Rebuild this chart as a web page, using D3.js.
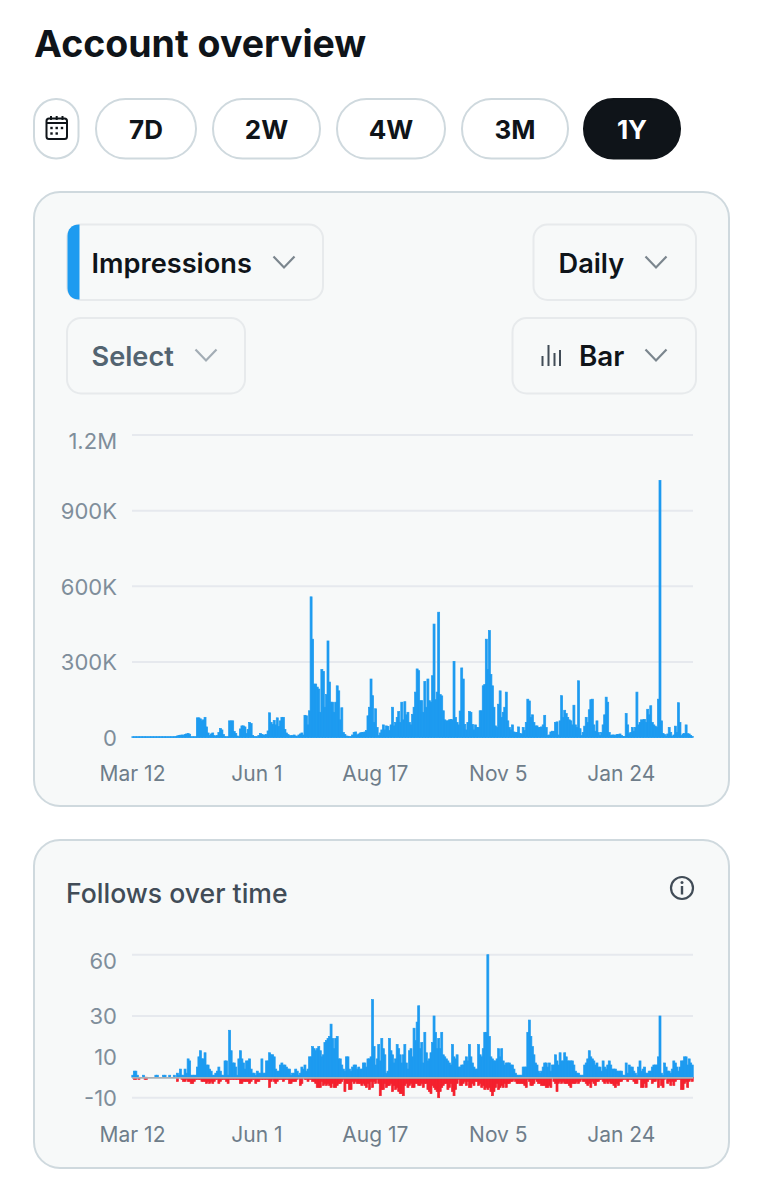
<!DOCTYPE html>
<html>
<head>
<meta charset="utf-8">
<title>Account overview</title>
<script src="https://cdn.jsdelivr.net/npm/d3@7"></script>
<style>
  html, body { margin: 0; padding: 0; background: #fff; }
  svg { display: block; font-family: Inter, "Noto Sans", sans-serif; }
</style>
</head>
<body>
<svg id="page" width="762" height="1200"></svg>
<script>
const rangeButtons = ['7D', '2W', '4W', '3M', '1Y'];
const startDate = new Date(Date.UTC(2024, 2, 12));
const xTickDates = [[2024, 2, 12], [2024, 5, 1], [2024, 7, 17], [2024, 10, 5], [2025, 0, 24]];

// daily impressions, in thousands
const impressions = [
  3,3,3,3,3,3,3,3,3,3, 3,3,3,3,3,3,3,3,3,3, 3,3,3,3,3,3,3,3,4,6,
  8,9,10,9,12,14,16,13,3,3, 3,3,78,78,74,66,70,80,42,18,
  8,14,18,8,4,8,20,36,30,12, 3,3,3,66,66,66,24,16,6,3,
  34,46,46,42,16,32,60,55,8,4, 3,3,8,16,12,10,10,12,26,98,
  60,52,68,50,78,44,66,80,80,32, 18,12,8,6,8,10,6,4,10,14,
  18,10,88,86,50,106,558,390,212,212, 200,192,100,270,262,120,170,383,220,140,
  140,100,140,205,185,70,118,20,12,6, 5,4,3,10,20,22,10,14,18,20,
  20,22,28,86,120,232,166,60,114,40, 8,18,30,50,30,46,44,28,50,120,
  46,60,80,103,60,140,70,142,90,100, 60,50,92,120,180,272,265,146,146,100,
  222,120,232,146,140,245,450,150,180,497, 170,165,106,70,66,66,70,72,70,302,
  80,60,50,105,276,232,52,30,60,103, 100,52,30,50,40,40,106,106,205,210,
  390,270,424,250,205,120,46,40,132,185, 80,100,120,180,66,40,30,50,22,20,
  20,42,16,14,40,28,60,152,145,80, 90,60,46,46,40,40,42,50,88,40,
  8,10,22,25,24,60,62,10,66,166, 80,108,95,80,70,66,50,128,50,40,
  225,35,8,20,45,80,60,110,150,152, 50,25,66,20,8,20,50,90,160,140,
  20,8,10,10,8,12,12,14,8,4, 4,95,50,15,20,40,25,40,180,50,
  60,70,70,72,60,112,90,126,60,50, 45,40,152,1020,66,16,12,6,14,40,
  20,5,10,45,20,138,60,8,14,16, 50,15,14,8,4
];

const follows = [
  1,3,3,1,0,0,0,1,0,0, 0,0,0,0,0,1,1,0,0,0, 1,1,0,0,1,0,0,1,0,2,
  1,4,1,1,4,2,9,8,1,1, 1,1,5,10,13,9,9,12,6,6,
  4,3,1,1,2,3,5,3,1,1, 8,8,1,23,13,7,7,5,1,9,
  13,9,7,4,8,8,9,4,2,2, 1,3,2,2,9,2,2,8,8,12,
  11,11,10,4,3,3,6,7,6,6, 5,4,4,1,2,2,4,3,1,2,
  5,4,6,3,4,10,10,15,14,13, 14,15,13,10,11,17,18,19,20,26,
  19,14,19,20,9,9,6,4,3,10, 10,4,3,5,6,6,4,5,4,4,
  7,7,5,9,9,10,38,15,6,9, 16,8,19,14,11,2,3,19,13,11,
  7,9,16,14,11,7,11,16,7,4, 13,14,10,24,18,27,35,14,17,7,
  22,12,8,9,12,17,30,22,14,19, 14,22,11,10,9,8,7,6,16,10,
  9,11,5,5,6,6,8,10,8,16, 10,7,5,4,4,16,11,10,14,22,
  22,60,20,10,9,8,8,9,14,10, 14,8,6,7,7,7,6,6,4,2,
  1,1,1,1,5,5,5,22,28,20, 15,11,7,6,3,2,3,5,7,7,
  5,7,3,6,6,11,8,6,12,8, 8,12,10,8,8,8,8,6,3,2,
  2,1,1,1,6,7,9,13,10,9, 8,6,7,5,5,3,8,5,4,6,
  8,6,4,4,4,3,3,3,3,1, 1,7,2,6,5,5,3,2,1,5,
  8,3,4,5,2,2,3,3,5,6, 6,6,10,30,2,1,7,5,3,3,
  2,4,8,7,5,3,5,8,8,10, 10,6,9,7,6
];

const unfollows = [
  0,-1,-1,0,-1,0,0,0,-1,-1, 0,0,0,0,0,0,0,0,0,0, 0,0,0,0,0,0,0,0,0,-2,
  0,0,-1,-2,-2,-1,-2,-2,-3,-3, -2,-1,-1,-1,-1,-2,-2,-2,-3,-2,
  -3,-2,-3,-2,-1,-1,-3,-2,-1,-1, -1,-2,-3,-1,-1,-1,-1,-1,-1,-1,
  -3,-3,-2,-2,-2,-2,-3,-2,-1,-1, -3,-2,-2,-1,-1,-1,-1,-1,-1,-5,
  -2,-1,-2,-3,-2,-1,-1,-1,-2,-1, -1,-1,-3,-3,-2,-2,-2,-1,0,-4,
  -3,0,-1,-1,-2,-1,-1,-2,-2,-3, -5,-5,-5,-2,-4,-3,-4,-3,-4,-5,
  -3,-5,-5,-4,-3,-3,-2,-1,-7,-3, -3,-6,-6,-2,-3,-2,-3,-3,-3,-4,
  -3,-4,-5,-3,-6,-2,-5,-2,-3,-1, -3,-9,-6,-6,-3,-5,-4,-4,-3,-7,
  -4,-6,-5,-7,-8,-8,-9,-4,-3,-5, -4,-3,-5,-5,-3,-3,-4,-4,-3,-5,
  -3,-3,-6,-7,-8,-4,-5,-6,-7,-10, -7,-5,-4,-3,-3,-6,-5,-3,-7,-9,
  -6,-3,-1,-4,-4,-3,-2,-4,-2,-5, -5,-3,-4,-2,-2,-4,-3,-5,-4,-6,
  -5,-6,-5,-7,-9,-7,-5,-3,-6,-5, -4,-5,-3,-5,-3,-3,-2,-2,-1,-2,
  -3,-3,-3,-3,-3,-4,-5,-1,-2,-4, -4,-3,-1,-2,-3,-3,-4,-4,-4,-5,
  -5,-4,-5,0,-2,-3,-7,-3,-2,-3, -2,-3,-3,-3,-4,-5,-3,-3,-3,-2,
  -3,-2,-1,-2,-2,-3,-4,-3,-5,-2, -3,-4,-2,-2,-1,-1,-2,-3,-2,-3,
  -2,-3,-3,-4,-5,-3,-4,-2,-2,-1, -1,-1,-2,-1,-1,-1,-2,-3,-3,-1,
  -1,-5,-5,-3,-5,-2,-1,-1,-3,-2, -2,-1,-5,-1,-4,-5,-1,0,-3,-2,
  -4,-2,-4,-2,-1,-1,-1,-6,-6,-3, -2,-5,-2,-1,-2
];

const impressionTicks = [0, 300, 600, 900, 1200];
const impressionTickLabels = ['0', '300K', '600K', '900K', '1.2M'];
const followTicks = [-10, 10, 30, 60];
const followGridTicks = [-10, 30, 60];

const blue = '#1d9bf0';
const red = '#f4212e';
const svg = d3.select('#page');

const dates = impressions.map((_, i) => d3.utcDay.offset(startDate, i));
const tickDates = xTickDates.map(d => new Date(Date.UTC(d[0], d[1], d[2])));
const x = d3.scaleUtc()
  .domain([startDate, d3.utcDay.offset(startDate, 365)])
  .range([132, 693]);
const barWidth = 2;

function box(left, top, right, bottom, r, fill, stroke, sw) {
  return svg.append('rect')
    .attr('x', left).attr('y', top)
    .attr('width', right - left).attr('height', bottom - top)
    .attr('rx', r)
    .attr('fill', fill).attr('stroke', stroke).attr('stroke-width', sw);
}

function label(px, py, str, size, weight, color, anchor) {
  return svg.append('text')
    .attr('x', px).attr('y', py)
    .attr('font-size', size).attr('font-weight', weight)
    .attr('fill', color).attr('text-anchor', anchor || 'start')
    .text(str);
}

function chevron(cx, cy, color) {
  svg.append('path')
    .attr('d', `M${cx - 10.5},${cy - 6.5}L${cx},${cy + 4.5}L${cx + 10.5},${cy - 6.5}`)
    .attr('fill', 'none').attr('stroke', color)
    .attr('stroke-width', 2.2);
}

// header
label(34, 57, 'Account overview', 37.5, 700, '#0f1419');

box(34, 99, 78.5, 158.5, 22, '#fff', '#cfd9de', 2);
const cal = svg.append('g').attr('fill', 'none').attr('stroke', '#0f1419');
cal.append('rect').attr('x', 46.5).attr('y', 118.5).attr('width', 20.5).attr('height', 20.5)
  .attr('rx', 2.5).attr('stroke-width', 2);
cal.append('path').attr('d', 'M46.5,123H67M51,116V120M56.7,116V120M62.5,116V120').attr('stroke-width', 2);
const calDots = [[51.5, 128], [56.7, 128], [62, 128], [51.5, 133.5], [56.7, 133.5]];
svg.append('g').selectAll('rect').data(calDots).join('rect')
  .attr('x', d => d[0] - 1.2).attr('y', d => d[1] - 1.2)
  .attr('width', 2.4).attr('height', 2.4).attr('fill', '#0f1419');

const pillEdges = [[96, 196], [213, 320], [337, 445], [462, 568], [584, 680]];
rangeButtons.forEach((name, i) => {
  const [l, r] = pillEdges[i];
  const active = name === '1Y';
  box(l, 99, r, 158.5, 29.5, active ? '#0f1419' : '#fff', active ? '#0f1419' : '#cfd9de', 2);
  label((l + r) / 2, 138.5, name, 26, 700, active ? '#fff' : '#0f1419', 'middle');
});

// cards
box(34, 192, 729, 806, 26, '#f7f9f9', '#cfd9de', 2);
box(34, 840, 729, 1168, 26, '#f7f9f9', '#cfd9de', 2);

// dropdowns
const ddStroke = '#e7eaec';
box(67, 224.5, 323, 300, 14, '#f7f9f9', ddStroke, 2);
svg.append('path')
  .attr('d', 'M79.5,224.5V299.5H79C72,299.5 67.5,295 67.5,288V236C67.5,229 72,224.5 79,224.5Z')
  .attr('fill', blue);
label(91.5, 272.5, 'Impressions', 27.2, 600, '#0f1419');
chevron(284, 263, '#7b868e');

box(533.5, 224.5, 696, 300, 14, '#f7f9f9', ddStroke, 2);
label(558.5, 272.5, 'Daily', 27.2, 600, '#0f1419');
chevron(656, 263, '#7b868e');

box(67, 318, 245, 393.5, 14, '#f7f9f9', ddStroke, 2);
label(91.5, 365.5, 'Select', 27.2, 600, '#536471');
chevron(206, 356, '#a3adb5');

box(512.5, 318, 696, 393.5, 14, '#f7f9f9', ddStroke, 2);
label(579, 365.5, 'Bar', 27.8, 600, '#0f1419');
chevron(656, 356, '#7b868e');
svg.append('path')
  .attr('d', 'M542.5,366V356M548.5,366V345M554.5,366V353M560,366V350')
  .attr('stroke', '#414c57').attr('stroke-width', 2).attr('fill', 'none');

function xAxis(yPos) {
  svg.append('g')
    .attr('transform', `translate(0,${yPos})`)
    .call(d3.axisBottom(x).tickValues(tickDates).tickFormat(d3.utcFormat('%b %-d')).tickSize(0).tickPadding(0))
    .call(g => g.select('.domain').remove())
    .call(g => g.selectAll('text')
      .attr('font-family', 'Inter, "Noto Sans", sans-serif')
      .attr('font-size', 21).attr('fill', '#6e7d8a').attr('dy', 0));
}

function yAxis(scale, ticks, format, topTick) {
  svg.append('g')
    .attr('transform', 'translate(117,0)')
    .call(d3.axisLeft(scale).tickValues(ticks).tickFormat(format).tickSize(0).tickPadding(0))
    .call(g => g.select('.domain').remove())
    .call(g => g.selectAll('text')
      .attr('font-family', 'Inter, "Noto Sans", sans-serif')
      .attr('font-size', 22).attr('fill', '#7f8e9b')
      .attr('dy', d => d === topTick ? '0.62em' : '0.36em'));
}

function grid(scale, ticks) {
  svg.append('g').selectAll('line').data(ticks).join('line')
    .attr('x1', 132).attr('x2', 693)
    .attr('y1', d => scale(d)).attr('y2', d => scale(d))
    .attr('stroke', '#e6e9ee').attr('stroke-width', 2);
}

function bars(scale, values, color) {
  svg.append('g').attr('fill', color).attr('stroke', color).attr('stroke-width', 0.7)
    .selectAll('rect').data(values).join('rect')
    .attr('x', (d, i) => x(dates[i]) - barWidth / 2 + 0.8)
    .attr('width', barWidth)
    .attr('y', d => Math.min(scale(d), scale(0)))
    .attr('height', d => Math.abs(scale(d) - scale(0)));
}

// impressions chart
const yImp = d3.scaleLinear().domain([0, 1200]).range([737.5, 435]);
grid(yImp, impressionTicks.slice(1));
bars(yImp, impressions, blue);
yAxis(yImp, impressionTicks, (d, i) => impressionTickLabels[i], 1200);
xAxis(781);

// follows chart
label(66, 903, 'Follows over time', 26.6, 500, '#414c57');
const info = svg.append('g').attr('transform', 'translate(682,888)');
info.append('circle').attr('r', 11).attr('fill', 'none').attr('stroke', '#414c57').attr('stroke-width', 2.2);
info.append('rect').attr('x', -1.2).attr('y', -2).attr('width', 2.4).attr('height', 8.5).attr('fill', '#414c57');
info.append('circle').attr('cy', -5.5).attr('r', 1.5).attr('fill', '#414c57');

const yFol = d3.scaleLinear().domain([-10, 60]).range([1097.7, 954.7]);
grid(yFol, followGridTicks);
bars(yFol, unfollows, red);
bars(yFol, follows, blue);
svg.append('line')
  .attr('x1', 132).attr('x2', 693)
  .attr('y1', yFol(0) + 0.6).attr('y2', yFol(0) + 0.6)
  .attr('stroke', '#a9b0b6').attr('stroke-width', 1.8);
yAxis(yFol, followTicks, d => d, 60);
xAxis(1142);
</script>
</body>
</html>
